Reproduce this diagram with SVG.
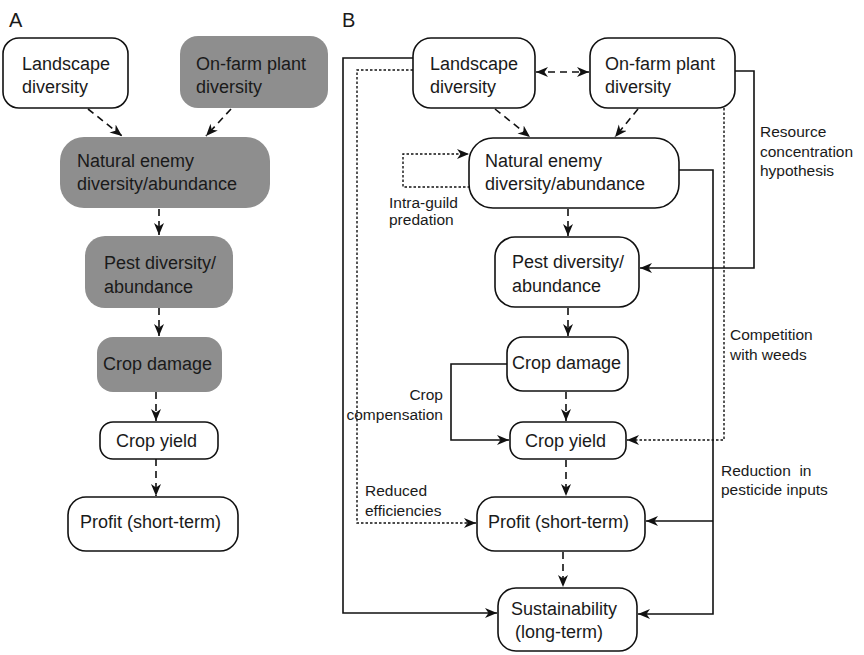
<svg xmlns="http://www.w3.org/2000/svg" width="864" height="655" viewBox="0 0 864 655">
<defs>
<marker id="ah" markerUnits="userSpaceOnUse" markerWidth="14" markerHeight="12" refX="12" refY="5" orient="auto-start-reverse">
<path d="M0,0 L12,5 L0,10 L3.5,5 Z" fill="#111"/>
</marker>
</defs>
<style>
.box{fill:#fff;stroke:#111;stroke-width:1.6}
.gbox{fill:#8e8e8e;stroke:none}
.t{font-family:"Liberation Sans",Arial,sans-serif;font-size:18px;fill:#1a1a1a}
.lb{font-family:"Liberation Sans",Arial,sans-serif;font-size:15.5px;fill:#1a1a1a}
.pl{font-family:"Liberation Sans",Arial,sans-serif;font-size:20px;fill:#1a1a1a}
.dash{fill:none;stroke:#111;stroke-width:1.6;stroke-dasharray:7 5}
.dot{fill:none;stroke:#111;stroke-width:1.4;stroke-dasharray:2.5 2}
.sol{fill:none;stroke:#111;stroke-width:1.6}
</style>
<rect width="864" height="655" fill="#fff"/>
<text class="pl" x="9" y="27">A</text>
<text class="pl" x="342" y="27">B</text>

<g id="connectors">
<!-- Panel A -->
<line class="dash" x1="88" y1="109" x2="122" y2="136" marker-end="url(#ah)"/>
<line class="dash" x1="231" y1="109" x2="206" y2="136" marker-end="url(#ah)"/>
<line class="dash" x1="159" y1="209" x2="159" y2="235" marker-end="url(#ah)"/>
<line class="dash" x1="159" y1="308" x2="159" y2="336" marker-end="url(#ah)"/>
<line class="dash" x1="156" y1="392" x2="156" y2="421" marker-end="url(#ah)"/>
<line class="dash" x1="156" y1="459" x2="156" y2="496" marker-end="url(#ah)"/>
<!-- Panel B -->
<line class="dash" x1="536" y1="72" x2="589" y2="72" marker-start="url(#ah)" marker-end="url(#ah)"/>
<line class="dash" x1="495" y1="109" x2="530" y2="137" marker-end="url(#ah)"/>
<line class="dash" x1="638" y1="109" x2="615" y2="137" marker-end="url(#ah)"/>
<line class="dash" x1="568" y1="209" x2="568" y2="236" marker-end="url(#ah)"/>
<line class="dash" x1="568" y1="308" x2="568" y2="336" marker-end="url(#ah)"/>
<line class="dash" x1="566" y1="392" x2="566" y2="421" marker-end="url(#ah)"/>
<line class="dash" x1="566" y1="460" x2="566" y2="496" marker-end="url(#ah)"/>
<line class="dash" x1="563" y1="552" x2="563" y2="587" marker-end="url(#ah)"/>
<!-- intra-guild loop -->
<polyline class="dot" points="470,187 403,187 403,154 469,154" marker-end="url(#ah)"/>
<!-- landscape to sustainability -->
<polyline class="sol" points="413,58 343,58 343,613 497,613" marker-end="url(#ah)"/>
<!-- reduced efficiencies -->
<polyline class="dot" points="413,70 357,70 357,523 476,523" marker-end="url(#ah)"/>
<!-- crop compensation -->
<polyline class="sol" points="507,364 451,364 451,440 509,440" marker-end="url(#ah)"/>
<!-- resource concentration -->
<polyline class="sol" points="735,71 754,71 754,268 640,268" marker-end="url(#ah)"/>
<!-- competition with weeds -->
<polyline class="dot" points="724,108 724,440 627,440" marker-end="url(#ah)"/>
<!-- reduction in pesticide inputs -->
<polyline class="sol" points="679,170 713,170 713,614 638,614" marker-end="url(#ah)"/>
<line class="sol" x1="713" y1="521" x2="646" y2="521" marker-end="url(#ah)"/>
</g>

<g id="labels">
<text class="lb" x="389" y="208">Intra-guild</text>
<text class="lb" x="389" y="225">predation</text>
<text class="lb" x="365" y="496">Reduced</text>
<text class="lb" x="365" y="516">efficiencies</text>
<text class="lb" x="443" y="400" text-anchor="end">Crop</text>
<text class="lb" x="443" y="420" text-anchor="end">compensation</text>
<text class="lb" x="760" y="137">Resource</text>
<text class="lb" x="760" y="157">concentration</text>
<text class="lb" x="760" y="176">hypothesis</text>
<text class="lb" x="730" y="340">Competition</text>
<text class="lb" x="730" y="360">with weeds</text>
<text class="lb" x="721" y="476" xml:space="preserve">Reduction  in</text>
<text class="lb" x="721" y="495">pesticide inputs</text>
</g>

<!-- Panel A nodes -->
<g id="a-landscape">
<rect class="box" x="3" y="38" width="125" height="70" rx="16"/>
<text class="t" x="22" y="70">Landscape</text>
<text class="t" x="22" y="93">diversity</text>
</g>
<g id="a-onfarm">
<rect class="gbox" x="180" y="36" width="148" height="72" rx="18"/>
<text class="t" x="196" y="70">On-farm plant</text>
<text class="t" x="196" y="93">diversity</text>
</g>
<g id="a-natural">
<rect class="gbox" x="60" y="137" width="210" height="71" rx="24"/>
<text class="t" x="77" y="167">Natural enemy</text>
<text class="t" x="77" y="190">diversity/abundance</text>
</g>
<g id="a-pest">
<rect class="gbox" x="85" y="236" width="148" height="72" rx="20"/>
<text class="t" x="104" y="269">Pest diversity/</text>
<text class="t" x="104" y="293">abundance</text>
</g>
<g id="a-damage">
<rect class="gbox" x="97" y="337" width="125" height="55" rx="16"/>
<text class="t" x="103" y="370">Crop damage</text>
</g>
<g id="a-yield">
<rect class="box" x="100" y="422" width="118" height="37" rx="13"/>
<text class="t" x="116" y="447">Crop yield</text>
</g>
<g id="a-profit">
<rect class="box" x="68" y="497" width="170" height="54" rx="18"/>
<text class="t" x="80" y="528">Profit (short-term)</text>
</g>

<!-- Panel B nodes -->
<g id="b-landscape">
<rect class="box" x="413" y="38" width="122" height="70" rx="18"/>
<text class="t" x="430" y="70">Landscape</text>
<text class="t" x="430" y="93">diversity</text>
</g>
<g id="b-onfarm">
<rect class="box" x="590" y="38" width="145" height="70" rx="18"/>
<text class="t" x="605" y="70">On-farm plant</text>
<text class="t" x="605" y="93">diversity</text>
</g>
<g id="b-natural">
<rect class="box" x="469" y="138" width="210" height="70" rx="24"/>
<text class="t" x="485" y="167">Natural enemy</text>
<text class="t" x="485" y="190">diversity/abundance</text>
</g>
<g id="b-pest">
<rect class="box" x="495" y="237" width="144" height="70" rx="20"/>
<text class="t" x="512" y="268">Pest diversity/</text>
<text class="t" x="512" y="292">abundance</text>
</g>
<g id="b-damage">
<rect class="box" x="507" y="337" width="121" height="54" rx="16"/>
<text class="t" x="512" y="369">Crop damage</text>
</g>
<g id="b-yield">
<rect class="box" x="510" y="422" width="116" height="37" rx="13"/>
<text class="t" x="525" y="447">Crop yield</text>
</g>
<g id="b-profit">
<rect class="box" x="477" y="497" width="168" height="54" rx="18"/>
<text class="t" x="488" y="528">Profit (short-term)</text>
</g>
<g id="b-sustain">
<rect class="box" x="498" y="588" width="139" height="63" rx="18"/>
<text class="t" x="511" y="615">Sustainability</text>
<text class="t" x="515" y="638">(long-term)</text>
</g>
</svg>
